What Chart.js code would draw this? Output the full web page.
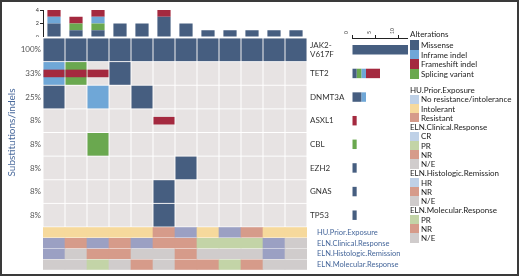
<!DOCTYPE html>
<html>
<head>
<meta charset="utf-8">
<script src="https://cdn.jsdelivr.net/npm/chart.js@4.4.1/dist/chart.umd.min.js"></script>
<style>
  body { margin: 0; background: #fff; font-family: Lato, sans-serif; }
  #frame { position: absolute; left: 0; top: 0; width: 519px; height: 276px; border: 2px solid #3a3a3a; box-sizing: border-box; }
  canvas { position: absolute; }
  .lg { position: absolute; font-size: 8px; color: #222; white-space: nowrap; display: flex; align-items: center; }
  .sw { display: inline-block; width: 9px; height: 100%; margin-right: 2px; }
</style>
</head>
<body>
<div id="frame"></div>
<canvas id="topBars" width="307" height="37" style="left:0;top:0;width:307px;height:37px"></canvas>
<canvas id="grid" width="350" height="189" style="left:0;top:38px;width:350px;height:189px"></canvas>
<canvas id="tracks" width="420" height="43" style="left:0;top:227px;width:420px;height:43px"></canvas>
<canvas id="sideBars" width="68" height="227" style="left:340px;top:0;width:68px;height:227px"></canvas>
<div id="legend"></div>
<script>
// samples (columns) and genes (rows)
const samples = ['1', '2', '3', '4', '5', '6', '7', '8', '9', '10', '11', '12'];
const genes = ['JAK2-V617F', 'TET2', 'DNMT3A', 'ASXL1', 'CBL', 'EZH2', 'GNAS', 'TP53'];

// one entry per sample: M missense, I inframe indel, F frameshift indel, S splicing variant
const jak2Calls   = ['M', 'M', 'M', 'M', 'M', 'M', 'M', 'M', 'M', 'M', 'M', 'M'];
const tet2Calls   = ['IF', 'SF', 'F', 'M', '', '', '', '', '', '', '', ''];
const dnmt3aCalls = ['M', '', 'I', '', 'M', '', '', '', '', '', '', ''];
const asxl1Calls  = ['', '', '', '', '', 'F', '', '', '', '', '', ''];
const cblCalls    = ['', '', 'S', '', '', '', '', '', '', '', '', ''];
const ezh2Calls   = ['', '', '', '', '', '', 'M', '', '', '', '', ''];
const gnasCalls   = ['', '', '', '', '', 'M', '', '', '', '', '', ''];
const tp53Calls   = ['', '', '', '', '', 'M', '', '', '', '', '', ''];
const geneCalls = [jak2Calls, tet2Calls, dnmt3aCalls, asxl1Calls, cblCalls, ezh2Calls, gnasCalls, tp53Calls];

// annotation tracks
const trackNames = ['HU.Prior.Exposure', 'ELN.Clinical.Response', 'ELN.Histologic.Remission', 'ELN.Molecular.Response'];
const huExposure = ['Intolerant', 'Intolerant', 'Intolerant', 'Intolerant', 'Intolerant', 'Resistant',
  'No resistance/intolerance', 'Intolerant', 'No resistance/intolerance', 'Resistant', 'Intolerant', 'Intolerant'];
const clinicalResponse = ['CR', 'NR', 'CR', 'NR', 'CR', 'NR', 'NR', 'PR', 'PR', 'PR', 'CR', 'N/E'];
const histologicRemission = ['HR', 'N/E', 'NR', 'NR', 'N/E', 'N/E', 'NR', 'N/E', 'N/E', 'N/E', 'HR', 'N/E'];
const molecularResponse = ['N/E', 'N/E', 'PR', 'N/E', 'NR', 'N/E', 'NR', 'NR', 'PR', 'NR', 'N/E', 'N/E'];
const trackValues = [huExposure, clinicalResponse, histologicRemission, molecularResponse];

// legend levels
const huLevels = ['No resistance/intolerance', 'Intolerant', 'Resistant'];
const clinicalLevels = ['CR', 'PR', 'NR', 'N/E'];
const histologicLevels = ['HR', 'NR', 'N/E'];
const molecularLevels = ['PR', 'NR', 'N/E'];

// alteration types, in stacking order
const typeCodes = ['M', 'S', 'I', 'F'];
const typeNames = { M: 'Missense', I: 'Inframe indel', F: 'Frameshift indel', S: 'Splicing variant' };
const typeColor = { M: '#465e80', I: '#6fa7d7', F: '#a4293f', S: '#6aa84f' };
const legendTypeOrder = ['M', 'I', 'F', 'S'];

const trackColor = {
  'No resistance/intolerance': '#9ba0c3', 'Intolerant': '#f6d99c', 'Resistant': '#d69b8a',
  'CR': '#9ba0c3', 'HR': '#9ba0c3', 'PR': '#c3d4a7', 'NR': '#d69b8a', 'N/E': '#d0cccc'
};
const legendColor = Object.assign({}, trackColor, {
  'No resistance/intolerance': '#bfd1e7', 'CR': '#bfd1e7', 'HR': '#bfd1e7'
});

Chart.defaults.font.family = 'Lato, sans-serif';
Chart.defaults.animation = false;
Chart.defaults.plugins.legend.display = false;
Chart.defaults.plugins.tooltip.enabled = false;

function fixW(w) {
  return s => { s.width = w; s.paddingTop = 0; s.paddingBottom = 0; };
}

// ---- top bars: alterations per sample
const topSets = typeCodes.map(code => ({
  label: typeNames[code],
  data: samples.map((s, i) => geneCalls.filter(c => c[i].includes(code)).length),
  backgroundColor: typeColor[code],
  barPercentage: 0.6,
  categoryPercentage: 1
}));
new Chart(document.getElementById('topBars'), {
  type: 'bar',
  data: { labels: samples, datasets: topSets },
  options: {
    responsive: false,
    layout: { padding: { top: 10 } },
    scales: {
      x: { display: false, stacked: true },
      y: {
        stacked: true, min: 0, max: 4,
        ticks: { stepSize: 2, font: { size: 5.5 }, color: '#333', padding: 1 },
        grid: { drawOnChartArea: false, tickLength: 3, color: '#222' },
        border: { color: '#222' },
        afterFit: fixW(43)
      }
    }
  }
});

// ---- main grid
const pctLabels = geneCalls.map(c => Math.round(c.filter(v => v).length / samples.length * 100) + '%');
const geneLabels = genes.map(g => g === 'JAK2-V617F' ? ['JAK2-', 'V617F'] : g);
const gridSets = [];
geneCalls.forEach((calls, r) => {
  gridSets.push({
    data: samples.map(() => [r + 0.02, r + 0.98]),
    backgroundColor: '#e7e3e3', order: 3
  });
  ['M', 'I', 'S'].forEach(code => {
    gridSets.push({
      data: calls.map(c => c.includes(code) ? [r + 0.02, r + 0.98] : null),
      backgroundColor: typeColor[code], order: 2
    });
  });
  gridSets.push({
    data: calls.map(c => c.includes('F') ? [r + 0.34, r + 0.66] : null),
    backgroundColor: typeColor.F, order: 1
  });
});
gridSets.forEach(d => { d.grouped = false; d.barPercentage = 0.955; d.categoryPercentage = 1; });

new Chart(document.getElementById('grid'), {
  type: 'bar',
  data: { labels: samples, datasets: gridSets },
  options: {
    responsive: false,
    scales: {
      x: { display: false },
      y: { display: false, min: 0, max: genes.length, reverse: true },
      yPct: {
        type: 'category', labels: pctLabels, position: 'left', offset: true,
        grid: { display: false, drawTicks: false }, border: { display: false },
        ticks: { font: { size: 8 }, color: '#555', padding: 2, autoSkip: false },
        title: { display: true, text: 'Substitutions/indels', color: '#4a6a9c', font: { size: 10 }, padding: { top: 6, bottom: 0 } },
        afterFit: fixW(43)
      },
      yGene: {
        type: 'category', labels: geneLabels, position: 'right', offset: true,
        grid: { display: false, drawTicks: false }, border: { display: false },
        ticks: { font: { size: 8 }, color: '#333', padding: 3, autoSkip: false },
        afterFit: fixW(43)
      }
    }
  }
});

// ---- annotation tracks
const trackSets = trackValues.map((vals, t) => ({
  data: samples.map(() => [t + 0.05, t + 0.95]),
  backgroundColor: vals.map(v => trackColor[v]),
  grouped: false, barPercentage: 1, categoryPercentage: 1
}));
new Chart(document.getElementById('tracks'), {
  type: 'bar',
  data: { labels: samples, datasets: trackSets },
  options: {
    responsive: false,
    layout: { padding: { left: 43 } },
    scales: {
      x: { display: false },
      y: { display: false, min: 0, max: trackNames.length, reverse: true },
      yLab: {
        type: 'category', labels: trackNames, position: 'right', offset: true,
        grid: { display: false, drawTicks: false }, border: { display: false },
        ticks: { font: { size: 7.5 }, color: '#46679b', padding: 10, autoSkip: false },
        afterFit: fixW(113)
      }
    }
  }
});

// ---- right bars: alterations per gene
const sideSets = typeCodes.map(code => ({
  label: typeNames[code],
  data: geneCalls.map(calls => calls.filter(c => c.includes(code)).length),
  backgroundColor: typeColor[code],
  barPercentage: 0.4,
  categoryPercentage: 1
}));
new Chart(document.getElementById('sideBars'), {
  type: 'bar',
  data: { labels: genes, datasets: sideSets },
  options: {
    responsive: false,
    indexAxis: 'y',
    layout: { padding: { left: 12 } },
    scales: {
      x: {
        position: 'top', stacked: true, min: 0, max: 12,
        ticks: { stepSize: 5, includeBounds: false, minRotation: 90, maxRotation: 90, font: { size: 5 }, color: '#333', padding: 1 },
        grid: { drawOnChartArea: false, tickLength: 3, color: '#222' },
        border: { color: '#222' },
        afterFit: s => { s.height = 38; s.paddingLeft = 0; s.paddingRight = 0; }
      },
      y: { display: false, stacked: true }
    }
  }
});

// ---- legend
const legend = document.getElementById('legend');
function addRow(top, h, text, color) {
  const d = document.createElement('div');
  d.className = 'lg';
  d.style.left = '410px';
  d.style.top = top + 'px';
  d.style.height = h + 'px';
  if (color) {
    const sw = document.createElement('span');
    sw.className = 'sw';
    sw.style.background = color;
    d.appendChild(sw);
  }
  d.appendChild(document.createTextNode(text));
  legend.appendChild(d);
}
let y = 29.6;
addRow(y, 9.4, 'Alterations'); y += 10.4;
legendTypeOrder.forEach(code => { addRow(y, 9.7, typeNames[code], typeColor[code]); y += 9.7; });

y = 85.4;
const groups = [['HU.Prior.Exposure', huLevels], ['ELN.Clinical.Response', clinicalLevels],
  ['ELN.Histologic.Remission', histologicLevels], ['ELN.Molecular.Response', molecularLevels]];
groups.forEach(([title, levels]) => {
  addRow(y, 9.25, title); y += 9.25;
  levels.forEach(l => { addRow(y, 9.25, l, legendColor[l]); y += 9.25; });
});
</script>
</body>
</html>
